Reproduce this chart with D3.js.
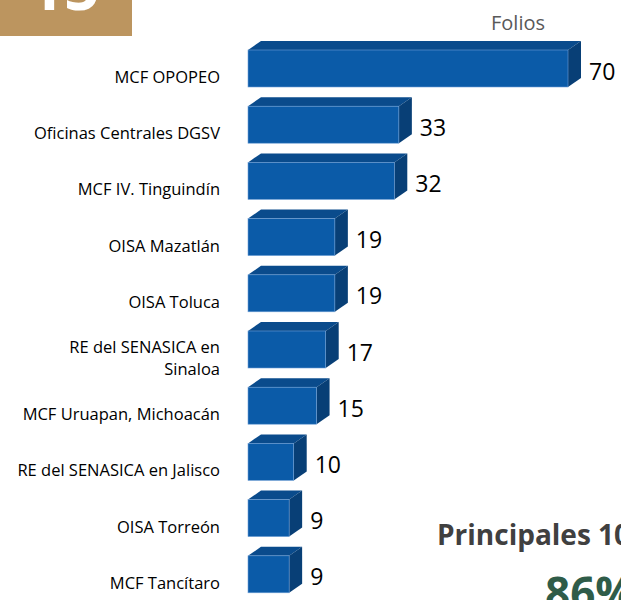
<!DOCTYPE html>
<html>
<head>
<meta charset="utf-8">
<script src="https://cdn.jsdelivr.net/npm/d3@7"></script>
<style>
  body { margin: 0; background: #fff; }
  svg { display: block; }
</style>
</head>
<body>
<svg id="chart_svg" width="621" height="600"></svg>
<script>
// Category names (top to bottom) and their folio counts
const categories = [
  "MCF OPOPEO",
  "Oficinas Centrales DGSV",
  "MCF IV. Tinguindín",
  "OISA Mazatlán",
  "OISA Toluca",
  "RE del SENASICA en\nSinaloa",
  "MCF Uruapan, Michoacán",
  "RE del SENASICA en Jalisco",
  "OISA Torreón",
  "MCF Tancítaro",
];
const folios = [70, 33, 32, 19, 19, 17, 15, 10, 9, 9];
const seriesName = "Folios";
const badgeText = "15";
const summaryTitle = "Principales 10";
const summaryValue = "86%";

const data = categories.map((c, i) => ({ name: c, value: folios[i] }));

const svg = d3.select("#chart_svg");
const font = "'Open Sans', 'DejaVu Sans', sans-serif";

// gold badge in the top left corner
svg.append("rect")
  .attr("x", 0).attr("y", 0)
  .attr("width", 132).attr("height", 36)
  .attr("fill", "#bc955f");
svg.append("text")
  .attr("x", 64).attr("y", 10)
  .attr("text-anchor", "middle")
  .attr("font-family", font)
  .attr("font-weight", "bold")
  .attr("font-size", 62)
  .attr("fill", "#fff")
  .text(badgeText);

// scales
const y = d3.scaleBand()
  .domain(categories)
  .range([45.4, 607.4]);

const x = d3.scaleLinear()
  .domain([0, 70])
  .range([248, 568]);

const step = y.step();
const frontH = 37;
const dx = 13, dy = 9;

// series title
svg.append("text")
  .attr("x", 518).attr("y", 30)
  .attr("text-anchor", "middle")
  .attr("font-family", font)
  .attr("font-size", 20)
  .attr("fill", "#595959")
  .text(seriesName);

const bar = svg.selectAll(".bar")
  .data(data)
  .enter()
  .append("g")
  .attr("class", "bar");

const center = (d) => y(d.name) + step / 2;

// top face
bar.append("path")
  .attr("d", (d) => {
    const x0 = x(0), x1 = x(d.value), yt = center(d) - 23.5;
    return `M${x0},${yt}L${x0 + dx},${yt - dy}L${x1 + dx},${yt - dy}L${x1},${yt}Z`;
  })
  .attr("fill", "#0a4b8c");

// side face
bar.append("path")
  .attr("d", (d) => {
    const x1 = x(d.value), yt = center(d) - 23.5, yb = yt + frontH;
    return `M${x1},${yt}L${x1 + dx},${yt - dy}L${x1 + dx},${yb - dy}L${x1},${yb}Z`;
  })
  .attr("fill", "#083f76");

// front face
bar.append("rect")
  .attr("x", x(0))
  .attr("y", (d) => center(d) - 23.5)
  .attr("width", (d) => x(d.value) - x(0))
  .attr("height", frontH)
  .attr("fill", "#0b5ba8")
  .attr("stroke", "#6f9fd6")
  .attr("stroke-width", 0.6);

// value labels
bar.append("text")
  .attr("x", (d) => x(d.value) + dx + 8)
  .attr("y", (d) => center(d) - 3)
  .attr("dominant-baseline", "central")
  .attr("font-family", font)
  .attr("font-size", 23)
  .attr("fill", "#000")
  .text((d) => d.value);

// category labels, right aligned
const label = svg.selectAll(".cat")
  .data(data)
  .enter()
  .append("text")
  .attr("class", "cat")
  .attr("text-anchor", "end")
  .attr("font-family", font)
  .attr("font-size", 16.5)
  .attr("fill", "#000");

label.each(function (d) {
  const lines = d.name.split("\n");
  const base = center(d) + 9.5 - (lines.length - 1) * 11;
  d3.select(this).selectAll("tspan")
    .data(lines)
    .enter()
    .append("tspan")
    .attr("x", 220)
    .attr("y", (l, i) => base + i * 22)
    .text((l) => l);
});

// summary text bottom right
svg.append("text")
  .attr("x", 437).attr("y", 545)
  .attr("font-family", font)
  .attr("font-weight", "bold")
  .attr("font-size", 28)
  .attr("fill", "#404040")
  .text(summaryTitle);

svg.append("text")
  .attr("x", 545).attr("y", 609)
  .attr("font-family", font)
  .attr("font-weight", "bold")
  .attr("font-size", 44)
  .attr("fill", "#2f5c49")
  .text(summaryValue);
</script>
</body>
</html>
